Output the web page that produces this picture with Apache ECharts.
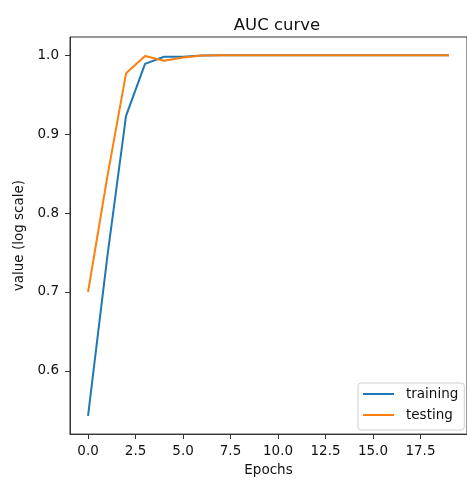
<!DOCTYPE html>
<html>
<head>
<meta charset="utf-8">
<script src="https://cdn.jsdelivr.net/npm/echarts@6/dist/echarts.min.js"></script>
<style>
html,body{margin:0;padding:0;background:#fff;}
#chart{width:467px;height:482px;}
</style>
</head>
<body>
<div id="chart"></div>
<script>
const epochs = [0,1,2,3,4,5,6,7,8,9,10,11,12,13,14,15,16,17,18,19];
const training = [0.543,0.742,0.923,0.989,0.998,0.998,0.9995,1.0,1.0,1.0,1.0,1.0,1.0,1.0,1.0,1.0,1.0,1.0,1.0,1.0];
const testing  = [0.700,0.844,0.977,0.999,0.993,0.997,0.9995,1.0,1.0,1.0,1.0,1.0,1.0,1.0,1.0,1.0,1.0,1.0,1.0,1.0];
const xTicks = [0,2.5,5,7.5,10,12.5,15,17.5];
const yTicks = [0.6,0.7,0.8,0.9,1.0];

const font = 'DejaVu Sans';
const axisColor = '#333';
const chart = echarts.init(document.getElementById('chart'));
chart.setOption({
  animation:false,
  backgroundColor:'#fff',
  title:{text:'AUC curve',left:272,textAlign:'center',top:12,
    textStyle:{fontFamily:font,fontSize:16.5,fontWeight:'normal',color:'#111'}},
  grid:{left:70,top:37,right:-7,bottom:45,show:true,borderColor:axisColor,borderWidth:1,backgroundColor:'transparent'},
  legend:{left:358,top:383,orient:'vertical',padding:[3,6,7,5],itemWidth:31,itemHeight:2,itemGap:5,
    icon:'rect',
    borderColor:'#d0d0d0',borderWidth:1,borderRadius:3,backgroundColor:'#fff',
    textStyle:{fontFamily:font,fontSize:13.5,lineHeight:16,color:'#111',padding:[0,0,0,7]},
    data:['training','testing']},
  xAxis:{type:'value',min:-0.95,max:19.95,name:'Epochs',nameLocation:'middle',nameGap:24,
    nameTextStyle:{fontFamily:font,fontSize:13.5,color:'#111'},
    axisLine:{show:true,onZero:false,lineStyle:{color:axisColor,width:1}},
    axisTick:{show:true,length:5,customValues:xTicks,lineStyle:{color:axisColor}},
    axisLabel:{customValues:xTicks,fontFamily:font,fontSize:13.5,color:'#111',margin:10,
      formatter:v=>v.toFixed(1)},
    splitLine:{show:false}},
  yAxis:{type:'value',min:0.52,max:1.023,name:'value (log scale)',nameLocation:'middle',nameGap:41,
    nameTextStyle:{fontFamily:font,fontSize:13.5,color:'#111'},
    axisLine:{show:true,onZero:false,lineStyle:{color:axisColor,width:1}},
    axisTick:{show:true,length:5,customValues:yTicks,lineStyle:{color:axisColor}},
    axisLabel:{customValues:yTicks,fontFamily:font,fontSize:13.5,color:'#111',margin:11,
      formatter:v=>v.toFixed(1)},
    splitLine:{show:false}},
  series:[
    {name:'training',type:'line',symbol:'none',data:epochs.map((e,i)=>[e,training[i]]),
     lineStyle:{color:'#1f77b4',width:2},itemStyle:{color:'#1f77b4'},z:2},
    {name:'testing',type:'line',symbol:'none',data:epochs.map((e,i)=>[e,testing[i]]),
     lineStyle:{color:'#ff7f0e',width:2},itemStyle:{color:'#ff7f0e'},z:3}
  ]
});
</script>
</body>
</html>
